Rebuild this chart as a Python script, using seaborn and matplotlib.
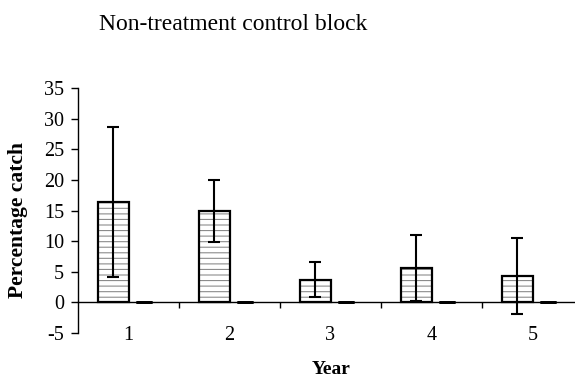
import matplotlib
matplotlib.use("Agg")
import matplotlib.pyplot as plt
from matplotlib.ticker import FixedLocator
import seaborn as sns
import pandas as pd

years = ["1", "2", "3", "4", "5"]
series = ["Control", "Other"]
control_mean = [16.4, 14.9, 3.7, 5.6, 4.3]
control_err = [12.3, 5.1, 2.9, 5.4, 6.2]
other_mean = [0, 0, 0, 0, 0]
other_err = [0, 0, 0, 0, 0]
yticks = [-5, 0, 5, 10, 15, 20, 25, 30, 35]

sns.set_theme(style="white")
plt.rcParams['font.family'] = ['Liberation Serif', 'DejaVu Serif']
plt.rcParams['axes.unicode_minus'] = False
plt.rcParams['hatch.linewidth'] = 0.8
plt.rcParams['text.color'] = 'black'
plt.rcParams['xtick.color'] = 'black'
plt.rcParams['ytick.color'] = 'black'
plt.rcParams['xtick.labelcolor'] = 'black'
plt.rcParams['ytick.labelcolor'] = 'black'

df = pd.DataFrame({
    "Year": years * 2,
    "Series": [series[0]] * len(years) + [series[1]] * len(years),
    "Value": control_mean + other_mean,
})

fig = plt.figure(figsize=(5.75, 3.8), dpi=100)
ax = fig.add_axes([78 / 575, 47 / 380, (583 - 78) / 575, 245 / 380])

# hatched fill layer
sns.barplot(data=df, x="Year", y="Value", hue="Series", order=years,
            hue_order=series, width=0.6, errorbar=None,
            palette=["white", "white"], legend=False, ax=ax)
for bar in ax.containers[0]:
    bar.set_facecolor("white")
    bar.set_edgecolor("#8c8c8c")
    bar.set_hatch("---")
    bar.set_linewidth(0)
for bar in ax.containers[1]:
    bar.set_visible(False)

# black outline layer
sns.barplot(data=df, x="Year", y="Value", hue="Series", order=years,
            hue_order=series, width=0.6, errorbar=None, fill=False,
            palette=["black", "black"], legend=False, ax=ax, linewidth=1.6)
for bar in ax.containers[2]:
    bar.set_edgecolor("black")
    bar.set_linewidth(1.6)
    bar.set_zorder(3)
for bar in ax.containers[3]:
    bar.set_visible(False)

x1 = [b.get_x() + b.get_width() / 2 for b in ax.containers[0]]
x2 = [b.get_x() + b.get_width() / 2 for b in ax.containers[1]]
ax.errorbar(x1, control_mean, yerr=control_err, fmt="none", ecolor="black",
            elinewidth=1.5, capsize=4, capthick=1.5, zorder=4)
ax.errorbar(x2, other_mean, yerr=other_err, fmt="none", ecolor="black",
            elinewidth=0, capsize=5.5, capthick=2, zorder=4)

ax.set_xlim(-0.5, len(years) - 0.5)
ax.set_ylim(-5, 35)
ax.set_yticks(yticks)
ax.set_yticklabels([str(v) for v in yticks])
ax.tick_params(axis="y", which="major", direction="out", length=5, width=1,
               color="black", labelsize=14.5, pad=5, left=True)

for s in ["top", "right"]:
    ax.spines[s].set_visible(False)
ax.spines["left"].set_color("black")
ax.spines["left"].set_linewidth(1)
ax.spines["bottom"].set_position(("data", 0))
ax.spines["bottom"].set_color("black")
ax.spines["bottom"].set_linewidth(1)

ax.set_xticks(range(len(years)))
ax.set_xticklabels(years)
ax.xaxis.set_minor_locator(FixedLocator([i + 0.5 for i in range(len(years))]))
ax.tick_params(axis="x", which="major", length=0, labelsize=14.5, pad=17,
               bottom=True)
ax.tick_params(axis="x", which="minor", direction="out", length=4, width=1,
               color="black", bottom=True)
ax.set_xlabel("")
ax.set_ylabel("")

fig.text(233 / 575, 1 - 25 / 380, "Non-treatment control block",
         ha="center", va="center", fontsize=17, color="black")
fig.text(18 / 575, 1 - 220 / 380, "Percentage catch", rotation=90,
         ha="center", va="center", fontsize=15.5, fontweight="bold",
         color="black")
fig.text(331 / 575, 1 - 369 / 380, "Year", ha="center", va="center",
         fontsize=14, fontweight="bold", color="black")

fig.savefig("out.png", dpi=100)
